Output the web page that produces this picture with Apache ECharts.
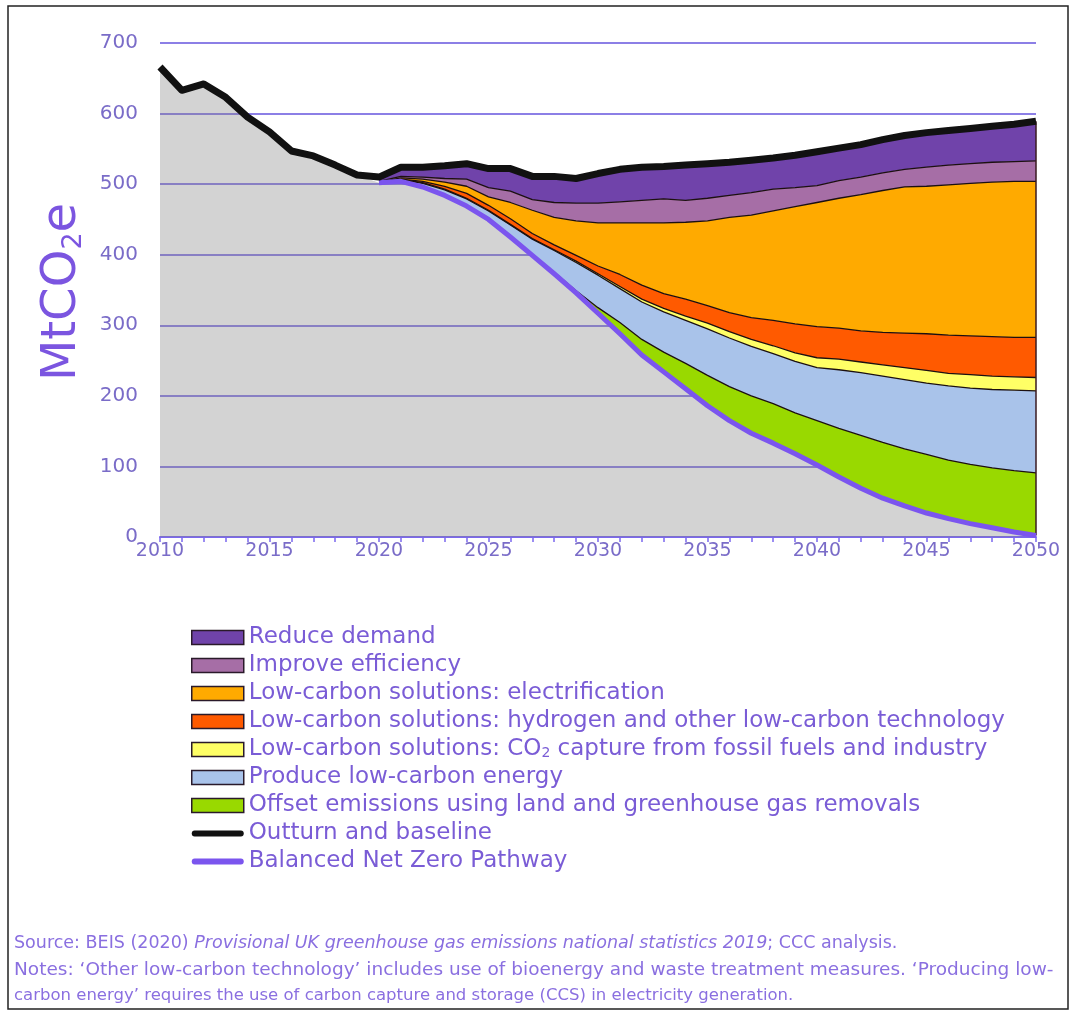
<!DOCTYPE html>
<html><head><meta charset="utf-8">
<script src="https://cdn.jsdelivr.net/npm/echarts/dist/echarts.min.js"></script>
<style>html,body{margin:0;padding:0;background:#fff}#c{width:1075px;height:1016px}</style>
</head><body><div id="c"></div>
<script>
// ---- data (MtCO2e) ----
const years = ['2010','2011','2012','2013','2014','2015','2016','2017','2018','2019','2020','2021','2022','2023','2024','2025','2026','2027','2028','2029','2030','2031','2032','2033','2034','2035','2036','2037','2038','2039','2040','2041','2042','2043','2044','2045','2046','2047','2048','2049','2050'];
const yTicks = [0,100,200,300,400,500,600,700];
// Outturn and baseline, 2010-2050
const outturn = [666,633,642,623,595,574,547,540,527,513,510,524,524,526,529,522,522,511,511,508,515,521,524,525,527,529,531,534,537,541,546,551,556,563,569,573,576,579,582,585,589];
// Balanced Net Zero Pathway, 2020-2050
const pathway = [502,504,496,484,469,450,425,399,373,346,317,288,258,234,210,186,165,147,133,118,102,85,69,55,44,34,26,19,13,7,2];
// Abatement wedges, 2020-2050
const offsetEmissions = [0,0,0,0,0,0,0,0,2,3,8,16,22,28,36,43,48,53,56,58,63,69,75,79,81,83,83,84,85,87,89];
const produceLowCarbon = [0,2,5,8,10,12,17,23,31,40,46,48,53,57,61,66,69,70,71,73,75,83,89,94,98,101,105,108,111,114,116];
const co2Capture = [0,0.5,1,1,1,1,1,1,1,2,2,3,4,5,6,8,9,10,11,12,14,15,15,16,17,18,18,19,19,19,19];
const hydrogen = [0,0.5,2,4,7,7,8,7,7,8,11,17,20,21,24,25,27,31,36,41,44,44,44,46,49,52,54,55,56,56,57];
const electrification = [1,2,3,6,10,12,23,33,39,49,61,73,88,100,109,120,135,145,155,166,176,184,193,201,207,209,213,216,219,221,221];
const improveEfficiency = [1,2,3,5,10,13,16,15,21,25,28,30,32,34,31,32,31,32,31,27,24,25,25,25,25,27,28,28,28,28,29];
const reduceDemand = [6,13,14,18,22,27,32,33,37,35,42,46,47,46,50,49,47,46,44,46,48,46,46,47,48,49,49,50,51,53,56];

const FONT = 'DejaVu Sans';
const pad = years.slice(0, 10).map(() => null);
const greyBase = outturn.slice(0, 10).concat(pathway);
const lastYear = years[years.length - 1];

const wedges = [
  {name: 'Offset emissions using land and greenhouse gas removals', data: offsetEmissions, color: '#99D900'},
  {name: 'Produce low-carbon energy', data: produceLowCarbon, color: '#A9C3EA'},
  {name: 'Low-carbon solutions: CO2 capture from fossil fuels and industry', data: co2Capture, color: '#FFFF66'},
  {name: 'Low-carbon solutions: hydrogen and other low-carbon technology', data: hydrogen, color: '#FF5A00'},
  {name: 'Low-carbon solutions: electrification', data: electrification, color: '#FFAA00'},
  {name: 'Improve efficiency', data: improveEfficiency, color: '#A66EA6'},
  {name: 'Reduce demand', data: reduceDemand, color: '#7043AA'}
];

const series = [{
  name: 'grey', type: 'line', stack: 's', data: greyBase, symbol: 'none', silent: true,
  lineStyle: {width: 0}, areaStyle: {color: 'rgba(128,128,128,0.35)', opacity: 1}, z: 2
}];
wedges.forEach(w => series.push({
  name: w.name, type: 'line', stack: 's', data: pad.concat(w.data), symbol: 'none',
  lineStyle: {color: '#1c1010', width: 1.3}, itemStyle: {color: w.color},
  areaStyle: {color: w.color, opacity: 1}, z: 2
}));
// dark right-hand edge of the stacked wedges
series[series.length - 1].markLine = {
  silent: true, symbol: 'none', label: {show: false},
  lineStyle: {color: '#3a1a20', width: 1.5, type: 'solid'},
  data: [[{coord: [lastYear, pathway[pathway.length - 1]]}, {coord: [lastYear, outturn[outturn.length - 1]]}]]
};
series.push({
  name: 'Balanced Net Zero Pathway', type: 'line', data: pad.concat(pathway), symbol: 'none',
  lineStyle: {color: '#7B55EE', width: 5, join: 'round'}, itemStyle: {color: '#7B55EE'}, z: 5
});
series.push({
  name: 'Outturn and baseline', type: 'line', data: outturn, symbol: 'none',
  lineStyle: {color: '#111', width: 7, join: 'round'}, itemStyle: {color: '#111'}, z: 6
});

const LINE_ICON = 'path://M3,0 L51,0 A3,3 0 0 1 51,6 L3,6 A3,3 0 0 1 3,0 Z';
const legendOrder = ['Reduce demand','Improve efficiency','Low-carbon solutions: electrification',
  'Low-carbon solutions: hydrogen and other low-carbon technology',
  'Low-carbon solutions: CO2 capture from fossil fuels and industry',
  'Produce low-carbon energy','Offset emissions using land and greenhouse gas removals'];
const legendData = legendOrder.map(n => ({name: n, icon: 'rect', itemStyle: {borderColor: '#2a1a2a', borderWidth: 1.5}}))
  .concat([
    {name: 'Outturn and baseline', icon: LINE_ICON, itemStyle: {color: '#111', borderWidth: 0}},
    {name: 'Balanced Net Zero Pathway', icon: LINE_ICON, itemStyle: {color: '#7B55EE', borderWidth: 0}}
  ]);

const TXT = '#7A5CD6';
const NOTE = '#8A6FE0';
const chart = echarts.init(document.getElementById('c'), null, {renderer: 'canvas'});
chart.setOption({
  animation: false,
  backgroundColor: '#fff',
  grid: {left: 160, right: 39, top: 43, bottom: 479, containLabel: false, outerBoundsMode: 'none'},
  xAxis: {
    type: 'category', data: years, boundaryGap: false,
    axisLine: {lineStyle: {color: '#7B68EE', width: 2}},
    axisTick: {show: true, interval: 0, length: 5, lineStyle: {color: '#7B68EE', width: 1.5}},
    axisLabel: {interval: 4, color: '#7A6CC8', fontSize: 19, fontFamily: FONT, margin: 5},
    splitLine: {show: false}
  },
  yAxis: {
    type: 'value', min: yTicks[0], max: yTicks[yTicks.length - 1], interval: 100,
    axisLine: {show: false}, axisTick: {show: false},
    axisLabel: {color: '#7A6CC8', fontSize: 20, fontFamily: FONT, margin: 22},
    splitLine: {lineStyle: {color: '#8C7FE6', width: 2}}
  },
  legend: {
    orient: 'vertical', left: 186, top: 621, itemWidth: 52, itemHeight: 14, itemGap: 5,
    data: legendData, selectedMode: false, symbolKeepAspect: true,
    formatter: n => n.replace('CO2', 'CO{sub|2}'),
    textStyle: {fontFamily: FONT, fontSize: 23, color: TXT, lineHeight: 21,
      rich: {sub: {fontFamily: FONT, fontSize: 14, color: TXT, lineHeight: 14, verticalAlign: 'bottom'}}}
  },
  graphic: [
    {type: 'rect', shape: {x: 8, y: 6, width: 1060, height: 1003}, style: {fill: 'none', stroke: '#222', lineWidth: 1.5}, silent: true},
    {type: 'text', x: 63, y: 292, rotation: Math.PI / 2, silent: true,
      style: {text: 'MtCO{s|2}e', fontSize: 48, fontFamily: FONT, fill: '#7B55E0', align: 'center', verticalAlign: 'middle',
        rich: {s: {fontSize: 27, fontFamily: FONT, fill: '#7B55E0', lineHeight: 27, verticalAlign: 'bottom'}}}},
    {type: 'text', x: 14, y: 943, silent: true,
      style: {text: 'Source: BEIS (2020) {i|Provisional UK greenhouse gas emissions national statistics 2019}; CCC analysis.',
        fontSize: 17.5, fontFamily: FONT, fill: NOTE, verticalAlign: 'middle',
        rich: {i: {fontStyle: 'italic', fontSize: 17.5, fontFamily: FONT, fill: NOTE}}}},
    {type: 'text', x: 14, y: 970, silent: true,
      style: {text: 'Notes: \u2018Other low-carbon technology\u2019 includes use of bioenergy and waste treatment measures. \u2018Producing low-',
        fontSize: 18.5, fontFamily: FONT, fill: NOTE, verticalAlign: 'middle'}},
    {type: 'text', x: 14, y: 996, silent: true,
      style: {text: 'carbon energy\u2019 requires the use of carbon capture and storage (CCS) in electricity generation.',
        fontSize: 16.5, fontFamily: FONT, fill: NOTE, verticalAlign: 'middle'}}
  ],
  series: series
});
</script>
</body></html>
